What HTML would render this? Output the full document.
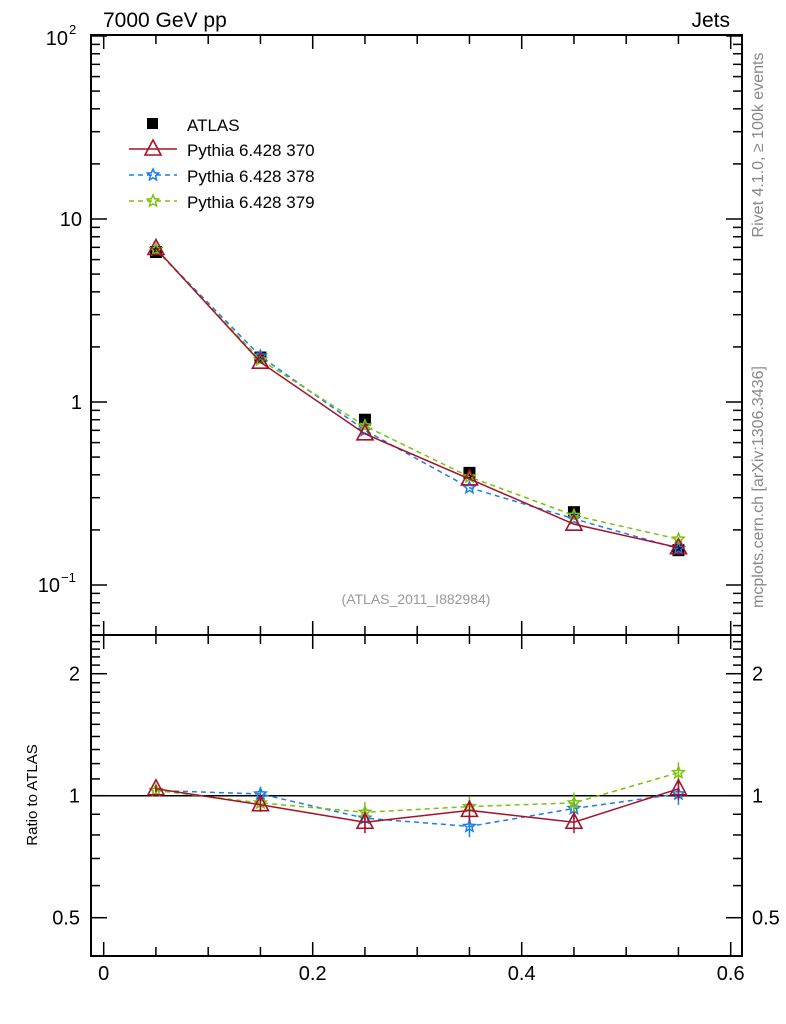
<!DOCTYPE html>
<html><head><meta charset="utf-8"><style>
body{margin:0;background:#fff}
svg{display:block;font-family:"Liberation Sans",sans-serif}
</style></head><body>
<svg id="c" width="786" height="1024" viewBox="0 0 786 1024"></svg>
<script>
const xs=[0.05,0.15,0.25,0.35,0.45,0.55];
const atlas=[6.6,1.75,0.8,0.41,0.25,0.155];
const p370=[6.9,1.65,0.67,0.38,0.215,0.16];
const p378=[6.8,1.78,0.70,0.34,0.23,0.158];
const p379=[6.8,1.70,0.74,0.39,0.24,0.178];
const r370=[1.04,0.95,0.86,0.92,0.86,1.04];
const r378=[1.03,1.01,0.88,0.84,0.93,1.01];
const r379=[1.03,0.96,0.91,0.94,0.96,1.14];
const rErr=[0.02,0.04,0.06,0.06,0.06,0.06];
const xTicks=[0,0.2,0.4,0.6];
const yTicksRatio=[0.5,1,2];

const NS="http://www.w3.org/2000/svg";
const svg=document.getElementById('c');
function el(t,a,p){const e=document.createElementNS(NS,t);for(const k in a)e.setAttribute(k,a[k]);(p||svg).appendChild(e);return e;}
const L=91,R=742,T=35,MB=635,RB=956;
const X=v=>103.7+v*1045;
const Y=v=>402-183*Math.log10(v);
const YR=v=>795.7-122*Math.log2(v);
function txt(s,a,name,p){const t=el('text',a,p);t.textContent=s;return t;}

let f=el('rect',{x:L,y:T,width:R-L,height:MB-T,fill:'none',stroke:'#000','stroke-width':2});

f=el('rect',{x:L,y:MB,width:R-L,height:RB-MB,fill:'none',stroke:'#000','stroke-width':2});


for(let i=0;i<=12;i++){const v=i*0.05,x=X(v);const maj=(i%4==0);const len=maj?14:9;
 for(const [b,t] of [[MB,T],[RB,MB]]){
  el('line',{x1:x,y1:b,x2:x,y2:b-len,stroke:'#000','stroke-width':1.5});
  el('line',{x1:x,y1:t,x2:x,y2:t+len,stroke:'#000','stroke-width':1.5});
 }}
xTicks.forEach(v=>{txt(String(v),{x:X(v),y:980,'font-size':20,'text-anchor':'middle'},'x-tick-label');});

for(let d=-2;d<=2;d++)for(let m=1;m<10;m++){const v=m*Math.pow(10,d),y=Y(v);if(y<T-1||y>MB)continue;
 const len=m==1?16:9;
 el('line',{x1:L,y1:y,x2:L+len,y2:y,stroke:'#000','stroke-width':1.5});
 el('line',{x1:R,y1:y,x2:R-len,y2:y,stroke:'#000','stroke-width':1.5});}
txt('10',{x:68,y:Y(100)+9,'font-size':20,'text-anchor':'end'},'y-tick-label');
txt('2',{x:69,y:Y(100)-2,'font-size':13},'y-tick-exponent');
txt('10',{x:82,y:Y(10)+7,'font-size':20,'text-anchor':'end'},'y-tick-label');
txt('1',{x:82,y:Y(1)+7,'font-size':20,'text-anchor':'end'},'y-tick-label');
txt('10',{x:60,y:Y(0.1)+7,'font-size':20,'text-anchor':'end'},'y-tick-label');
txt('−1',{x:61,y:Y(0.1)-3,'font-size':13},'y-tick-exponent');

const rminor=[0.5,0.6,0.7,0.8,0.9,1,1.1,1.2,1.3,1.4,1.5,1.6,1.7,1.8,1.9,2,2.1,2.2,2.3,2.4];
rminor.forEach(v=>{const y=YR(v);const maj=yTicksRatio.includes(v);const len=maj?16:9;
 el('line',{x1:L,y1:y,x2:L+len,y2:y,stroke:'#000','stroke-width':1.5});
 el('line',{x1:R,y1:y,x2:R-len,y2:y,stroke:'#000','stroke-width':1.5});});
yTicksRatio.forEach(v=>{for(const [x,a] of [[80,'end'],[752,'start']]){
 txt(String(v),{x:x,y:YR(v)+7,'font-size':20,'text-anchor':a},'ratio-tick-label');}});
el('line',{x1:L,y1:YR(1),x2:R,y2:YR(1),stroke:'#000','stroke-width':1.5});

function star(g,cx,cy,r,col){let p='';for(let i=0;i<10;i++){const a=-Math.PI/2+i*Math.PI/5,rr=i%2?r*0.45:r;p+=(cx+rr*Math.cos(a)).toFixed(1)+','+(cy+rr*Math.sin(a)).toFixed(1)+' ';}
 el('polygon',{points:p,fill:'none',stroke:col,'stroke-width':1.5},g);}
function tri(g,cx,cy,col){el('polygon',{points:`${cx},${cy-9} ${cx-8},${cy+6} ${cx+8},${cy+6}`,fill:'none',stroke:col,'stroke-width':1.6},g);}
function series(name,vals,fy,col,dash,mk,err){
 const g=el('g',{});
 el('polyline',{points:vals.map((v,i)=>X(xs[i])+','+fy(v)).join(' '),fill:'none',stroke:col,'stroke-width':1.5,'stroke-dasharray':dash||'none'},g);
 vals.forEach((v,i)=>{const x=X(xs[i]),y=fy(v);
  if(err){el('line',{x1:x,y1:YR(v*(1+err[i])),x2:x,y2:YR(v*(1-err[i])),stroke:col,'stroke-width':1.5},g);}
  if(mk=='tri')tri(g,x,y,col);else star(g,x,y,6,col);});
}
const ga=el('g',{});
atlas.forEach((v,i)=>el('rect',{x:X(xs[i])-6,y:Y(v)-6,width:12,height:12,fill:'#000'},ga));
series('pythia-378',p378,Y,'#1a7fe6','5,4','star');
series('pythia-379',p379,Y,'#7cc20a','5,4','star');
series('pythia-370',p370,Y,'#a8102a',null,'tri');
series('ratio-378',r378,YR,'#1a7fe6','5,4','star',rErr);
series('ratio-379',r379,YR,'#7cc20a','5,4','star',rErr);
series('ratio-370',r370,YR,'#a8102a',null,'tri',rErr);

const lg=el('g',{});
el('rect',{x:147,y:118,width:11,height:11,fill:'#000'},lg);
[['ATLAS',124],['Pythia 6.428 370',149],['Pythia 6.428 378',175],['Pythia 6.428 379',201]].forEach(([s,y])=>{
 txt(s,{x:187,y:y+7,'font-size':17},'legend-entry',lg);});
el('line',{x1:129,y1:149,x2:177,y2:149,stroke:'#a8102a','stroke-width':1.5},lg);tri(lg,153,149,'#a8102a');
el('line',{x1:129,y1:175,x2:177,y2:175,stroke:'#1a7fe6','stroke-width':1.5,'stroke-dasharray':'5,4'},lg);star(lg,153,175,6,'#1a7fe6');
el('line',{x1:129,y1:201,x2:177,y2:201,stroke:'#7cc20a','stroke-width':1.5,'stroke-dasharray':'5,4'},lg);star(lg,153,201,6,'#7cc20a');

txt('7000 GeV pp',{x:103,y:27,'font-size':21},'title-left');
txt('Jets',{x:730,y:27,'font-size':21,'text-anchor':'end'},'title-right');
txt('(ATLAS_2011_I882984)',{x:416,y:604,'font-size':14,fill:'#999','text-anchor':'middle'},'analysis-id');
txt('Ratio to ATLAS',{x:0,y:0,'font-size':15,'text-anchor':'middle',transform:'translate(37,795) rotate(-90)'},'ratio-y-axis-title');
txt('Rivet 4.1.0, ≥ 100k events',{x:0,y:0,'font-size':16,fill:'#888','text-anchor':'middle',transform:'translate(763,145) rotate(-90)'},'rivet-label');
txt('mcplots.cern.ch [arXiv:1306.3436]',{x:0,y:0,'font-size':16,fill:'#888','text-anchor':'middle',transform:'translate(763,487) rotate(-90)'},'mcplots-label');
</script>
</body></html>
